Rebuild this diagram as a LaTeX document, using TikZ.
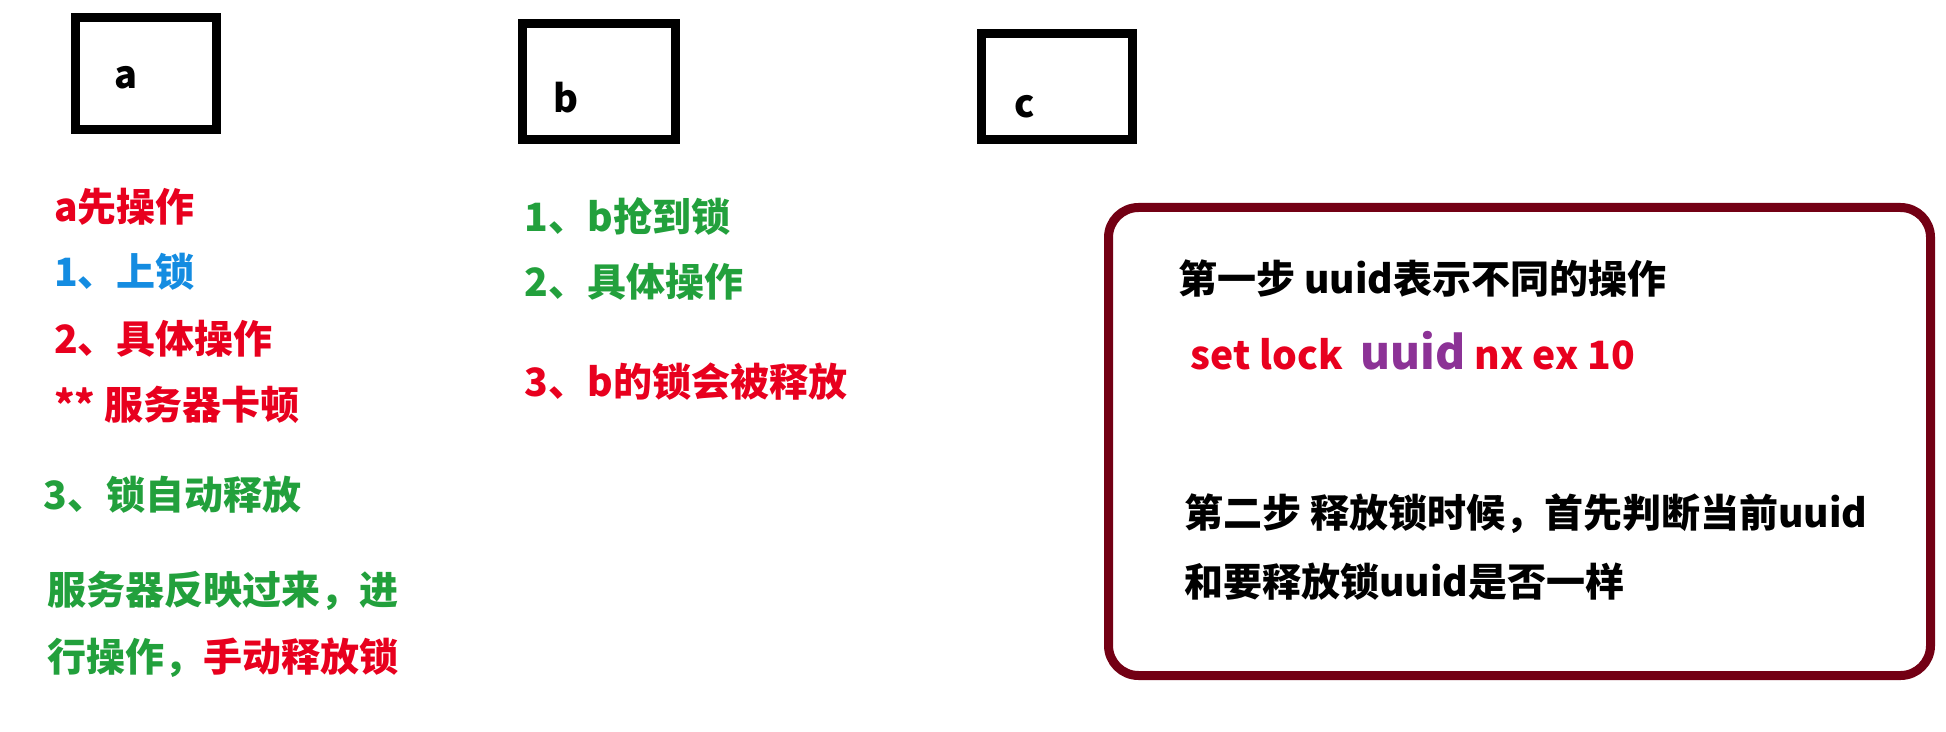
\documentclass[tikz,border=0pt]{standalone}
\usepackage{fontspec}
\setmainfont{Noto Sans CJK SC}
\usepackage{xcolor}
\definecolor{lockred}{RGB}{232,0,30}
\definecolor{lockgreen}{RGB}{34,160,60}
\definecolor{lockblue}{RGB}{20,140,225}
\definecolor{lockpurple}{RGB}{140,50,150}
\definecolor{lockframe}{RGB}{115,0,20}

\begin{document}
\begin{tikzpicture}[x=0.5pt,y=-0.5pt,
    client/.style={draw, line width=4.5pt, inner sep=0pt},
    cname/.style={inner sep=0pt, font=\fontsize{19}{22}\selectfont\bfseries},
    note/.style={anchor=west, inner sep=0pt, font=\fontsize{19.5}{22}\selectfont\bfseries}]
    \useasboundingbox (0,0) rectangle (1946,732);
    \node[client, minimum width=70.4pt, minimum height=56.3pt] (ca) at (146,73.4) {};
    \node[client, minimum width=76.4pt, minimum height=57.7pt] (cb) at (599,81.7) {};
    \node[client, minimum width=75.8pt, minimum height=53pt] (cc) at (1056.8,86.3) {};
    \node[cname] (la) at (126,78) {a};
    \node[cname] (lb) at (566,98) {b};
    \node[cname] (lc) at (1025,107) {c};
    \node[note, lockred] (a1) at (53.6,207) {a先操作};
    \node[note, lockblue] (a2) at (53.6,272) {1、上锁};
    \node[note, lockred] (a3) at (53.6,339) {2、具体操作};
    \node[note, lockred] (a4) at (53.6,405) {** 服务器卡顿};
    \node[note, lockgreen] (a5) at (43,495) {3、锁自动释放};
    \node[note, lockgreen] (a6) at (47,591) {服务器反映过来，进};
    \node[note, lockgreen] (a7) at (47,658) {行操作，\textcolor{lockred}{手动释放锁}};
    \node[note, lockgreen] (b1) at (524.5,216) {1、b抢到锁};
    \node[note, lockgreen] (b2) at (524.5,282) {2、具体操作};
    \node[note, lockred] (b3) at (524.5,382) {3、b的锁会被释放};
    \draw[lockframe, line width=4.5pt, rounded corners=15pt] (1108.5,207.5) rectangle (1930.5,675.5);
    \node[note] (s1) at (1178,279) {第一步 uuid表示不同的操作};
    \node[note, lockred] (s2) at (1190,351) {set lock\ \ {\fontsize{23}{24}\selectfont\color{lockpurple}uuid} nx ex 10};
    \node[note] (s3) at (1184,514) {第二步 释放锁时候，首先判断当前uuid};
    \node[note] (s4) at (1184,582) {和要释放锁uuid是否一样};
\end{tikzpicture}
\end{document}
